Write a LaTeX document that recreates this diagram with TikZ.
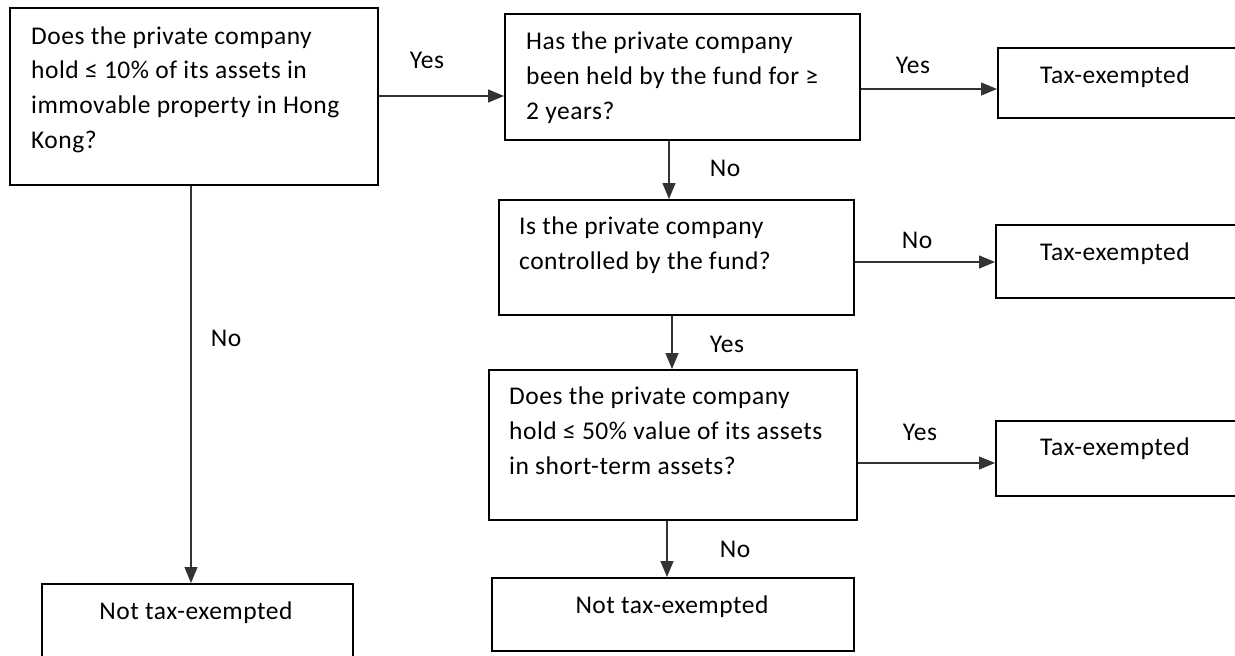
\documentclass[tikz,border=0pt]{standalone}
\usepackage{fontspec}
\setmainfont{Carlito}[LetterSpace=2]
\usetikzlibrary{arrows.meta}
\tikzset{
  qbox/.style={draw, line width=1.8pt, anchor=north west, inner sep=0pt},
  qtext/.style={anchor=north west, align=left, inner sep=0pt, font=\fontsize{25.5}{34.7}\selectfont},
  rtext/.style={anchor=base, inner sep=0pt, font=\fontsize{25.5}{34.7}\selectfont},
  arr/.style={line width=1.2pt, black!80, -{Triangle[length=16pt,width=13pt]}},
}
\begin{document}
\begin{tikzpicture}[x=1pt, y=-1pt]
    \useasboundingbox (0,0) rectangle (1235,656);
    \fill[white] (0,0) rectangle (1235,656);
    \clip (0,0) rectangle (1235,656);

    \node[qbox, minimum width=368, minimum height=177] (q1) at (9,7) {};
    \node[qtext] (q1t) at (31,19.8) {\strut Does the private company\\hold ≤ 10\% of its assets in\\immovable property in Hong\\Kong?};
    \node[qbox, minimum width=355, minimum height=126] (q2) at (504,13) {};
    \node[qtext] (q2t) at (526,25.5) {\strut Has the private company\\been held by the fund for ≥\\2 years?};
    \node[qbox, minimum width=355, minimum height=115] (q3) at (498,199) {};
    \node[qtext] (q3t) at (519,210.5) {\strut Is the private company\\controlled by the fund?};
    \node[qbox, minimum width=368, minimum height=150] (q4) at (488,369) {};
    \node[qtext] (q4t) at (509,380.5) {\strut Does the private company\\hold ≤ 50\% value of its assets\\in short-term assets?};

    \node[qbox, minimum width=260, minimum height=70] (t1) at (997,47) {};
    \node[rtext, anchor=base west] (t1t) at (1040,83) {Tax-exempted};
    \node[qbox, minimum width=260, minimum height=73] (t2) at (995,224) {};
    \node[rtext, anchor=base west] (t2t) at (1040,260) {Tax-exempted};
    \node[qbox, minimum width=260, minimum height=75] (t3) at (995,420) {};
    \node[rtext, anchor=base west] (t3t) at (1040,455) {Tax-exempted};

    \node[qbox, minimum width=362, minimum height=73] (n2) at (491,577) {};
    \node[rtext] (n2t) at (672,613) {Not tax-exempted};
    \node[qbox, minimum width=311, minimum height=80] (n1) at (41,583) {};
    \node[rtext] (n1t) at (196,619) {Not tax-exempted};

    \draw[arr] (q1.east |- 0,96) -- (q2.west |- 0,96);
    \node[rtext] (y1) at (427,68) {Yes};
    \draw[arr] (q2.east |- 0,89) -- (t1.west |- 0,89);
    \node[rtext] (y2) at (913,73) {Yes};
    \draw[arr] (q2.south -| 669,0) -- (q3.north -| 669,0);
    \node[rtext] (m1) at (725,176) {No};
    \draw[arr] (q3.east |- 0,262) -- (t2.west |- 0,262);
    \node[rtext] (m2) at (917,248) {No};
    \draw[arr] (q3.south -| 672,0) -- (q4.north -| 672,0);
    \node[rtext] (y3) at (727,352) {Yes};
    \draw[arr] (q4.east |- 0,463) -- (t3.west |- 0,463);
    \node[rtext] (y4) at (920,440) {Yes};
    \draw[arr] (q4.south -| 667,0) -- (n2.north -| 667,0);
    \node[rtext] (m3) at (735,557) {No};
    \draw[arr] (q1.south -| 191,0) -- (n1.north -| 191,0);
    \node[rtext] (m4) at (226,346) {No};
\end{tikzpicture}
\end{document}
